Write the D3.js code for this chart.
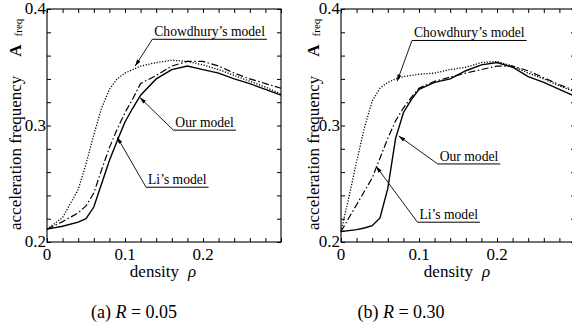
<!DOCTYPE html>
<html>
<head>
<meta charset="utf-8">
<script src="https://cdn.jsdelivr.net/npm/d3@7"></script>
<style>
  body { margin: 0; background: #fff; }
  svg { display: block; }
  text { font-family: "Liberation Serif", "Times New Roman", serif; fill: #000; }
</style>
</head>
<body>
<div id="chart"></div>
<script>
// density grid + acceleration frequency, panel (a) R = 0.05
const rhoA  = [0, 0.02, 0.04, 0.05, 0.06, 0.07, 0.08, 0.09, 0.10, 0.11, 0.12, 0.14, 0.16, 0.18, 0.20, 0.22, 0.24, 0.26, 0.28, 0.30];
const ourA  = [0.211, 0.2135, 0.217, 0.220, 0.230, 0.250, 0.270, 0.287, 0.303, 0.315, 0.326, 0.340, 0.348, 0.351, 0.348, 0.345, 0.340, 0.336, 0.331, 0.326];
const liA   = [0.211, 0.2175, 0.225, 0.231, 0.242, 0.262, 0.281, 0.297, 0.311, 0.323, 0.336, 0.343, 0.351, 0.355, 0.355, 0.351, 0.345, 0.340, 0.336, 0.332];
const chowA = [0.211, 0.221, 0.245, 0.267, 0.292, 0.315, 0.331, 0.340, 0.345, 0.348, 0.351, 0.354, 0.356, 0.355, 0.352, 0.348, 0.343, 0.338, 0.333, 0.327];

// panel (b) R = 0.30
const rhoB  = [0, 0.01, 0.02, 0.03, 0.04, 0.05, 0.06, 0.07, 0.08, 0.09, 0.10, 0.12, 0.14, 0.16, 0.18, 0.20, 0.22, 0.24, 0.26, 0.28, 0.30];
const ourB  = [0.209, 0.2098, 0.2106, 0.212, 0.214, 0.2206, 0.246, 0.289, 0.311, 0.322, 0.331, 0.337, 0.340, 0.347, 0.352, 0.354, 0.350, 0.342, 0.337, 0.331, 0.325];
const liB   = [0.209, 0.2206, 0.232, 0.2435, 0.255, 0.272, 0.289, 0.304, 0.315, 0.324, 0.332, 0.338, 0.3415, 0.345, 0.348, 0.351, 0.351, 0.347, 0.341, 0.335, 0.330];
const chowB = [0.209, 0.238, 0.269, 0.298, 0.321, 0.332, 0.337, 0.340, 0.342, 0.343, 0.344, 0.345, 0.348, 0.350, 0.354, 0.355, 0.351, 0.345, 0.340, 0.334, 0.329];

const xTickLabels = [0, 0.1, 0.2];
const yTickLabels = [0.2, 0.3, 0.4];
const captionTags = ['(a)', '(b)'];
const rValues = ['0.05', '0.30'];

const W = 572, H = 333;
const PW = 234, TOP = 9, BOTTOM = 242;

// tip = where the arrow points, foot = left end of the underline (data coords)
const panels = [
    {
        left: 47, ylabX: 21, capX: 134, rho: rhoA,
        series: { our: ourA, li: liA, chow: chowA },
        notes: [
            { text: 'Chowdhury\u2019s model', tip: [0.113, 0.351], foot: [0.135, 0.374] },
            { text: 'Our model', tip: [0.119, 0.324], foot: [0.162, 0.296] },
            { text: 'Li\u2019s model', tip: [0.090, 0.290], foot: [0.127, 0.247] }
        ]
    },
    {
        left: 341, ylabX: 319, capX: 401, rho: rhoB,
        series: { our: ourB, li: liB, chow: chowB },
        notes: [
            { text: 'Chowdhury\u2019s model', tip: [0.072, 0.338], foot: [0.091, 0.373] },
            { text: 'Our model', tip: [0.074, 0.291], foot: [0.124, 0.267] },
            { text: 'Li\u2019s model', tip: [0.045, 0.265], foot: [0.098, 0.217] }
        ]
    }
];

const styles = {
    our:  { width: 1.4, dash: null },
    li:   { width: 1.2, dash: '7,2.5,1.5,2.5' },
    chow: { width: 1.3, dash: '1.2,1.6' }
};

const svg = d3.select('#chart').append('svg')
    .attr('width', W).attr('height', H)
    .attr('viewBox', `0 0 ${W} ${H}`);

svg.append('defs').append('marker')
    .attr('id', 'arrow')
    .attr('viewBox', '0 0 10 6')
    .attr('refX', 10).attr('refY', 3)
    .attr('markerWidth', 7).attr('markerHeight', 4)
    .attr('markerUnits', 'userSpaceOnUse')
    .attr('orient', 'auto')
    .append('path').attr('d', 'M0,0 L10,3 L0,6 Z').attr('fill', '#000');

const minor = d3.range(16).map(i => +(i * 0.02).toFixed(2));
const minorY = d3.range(11).map(i => +(0.2 + i * 0.02).toFixed(2));

panels.forEach((p, pi) => {
    const x = d3.scaleLinear().domain([0, 0.3]).range([p.left, p.left + PW]);
    const y = d3.scaleLinear().domain([0.2, 0.4]).range([BOTTOM, TOP]);
    const g = svg.append('g');

    // inward ticks on all four sides
    const noDomain = s => s.call(a => a.select('.domain').remove());
    g.append('g').attr('transform', `translate(0,${BOTTOM})`)
        .call(d3.axisTop(x).tickValues(minor).tickSize(4).tickFormat('')).call(noDomain);
    g.append('g').attr('transform', `translate(0,${TOP})`)
        .call(d3.axisBottom(x).tickValues(minor).tickSize(4).tickFormat('')).call(noDomain);
    g.append('g').attr('transform', `translate(${p.left},0)`)
        .call(d3.axisRight(y).tickValues(minorY).tickSize(4).tickFormat('')).call(noDomain);
    g.append('g').attr('transform', `translate(${p.left + PW},0)`)
        .call(d3.axisLeft(y).tickValues(minorY).tickSize(4).tickFormat('')).call(noDomain);

    g.append('rect')
        .attr('x', p.left).attr('y', TOP)
        .attr('width', PW).attr('height', BOTTOM - TOP)
        .attr('fill', 'none').attr('stroke', '#000').attr('stroke-width', 1.1);

    // tick labels
    xTickLabels.forEach(v => {
        g.append('text')
            .attr('x', x(v)).attr('y', BOTTOM + 18)
            .attr('text-anchor', 'middle').attr('font-size', '17px')
            .text(v === 0 ? '0' : v.toFixed(1));
    });
    yTickLabels.forEach(v => {
        g.append('text')
            .attr('x', p.left - 1).attr('y', y(v) + 5)
            .attr('text-anchor', 'end').attr('font-size', '17px')
            .text(v.toFixed(1));
    });

    // axis titles
    const xl = g.append('text')
        .attr('x', p.left + PW / 2 - 1).attr('y', 277)
        .attr('text-anchor', 'middle').attr('font-size', '17px');
    xl.append('tspan').text('density');
    xl.append('tspan').attr('dx', 9).attr('font-style', 'italic').text('\u03c1');

    const yl = g.append('text')
        .attr('transform', `translate(${p.ylabX},${BOTTOM - 12}) rotate(-90)`)
        .attr('font-size', '17px');
    yl.append('tspan').text('acceleration frequency');
    yl.append('tspan').attr('dx', 19).attr('font-weight', 'bold').text('A');
    yl.append('tspan').attr('dx', 8).attr('dy', 1).attr('font-size', '11px').text('freq');

    // curves
    const line = d3.line().x(d => x(d[0])).y(d => y(d[1]));
    ['chow', 'li', 'our'].forEach(k => {
        g.append('path')
            .datum(p.rho.map((r, i) => [r, p.series[k][i]]))
            .attr('d', line)
            .attr('fill', 'none')
            .attr('stroke', '#000')
            .attr('stroke-width', styles[k].width)
            .attr('stroke-dasharray', styles[k].dash);
    });

    // annotations
    p.notes.forEach(n => {
        const fx = x(n.foot[0]), fy = y(n.foot[1]);
        const t = g.append('text')
            .attr('x', fx + 2).attr('y', fy - 3)
            .attr('font-size', '13.6px')
            .text(n.text);
        const tw = t.node().getComputedTextLength();
        g.append('line')
            .attr('x1', fx).attr('y1', fy).attr('x2', fx + tw + 4).attr('y2', fy)
            .attr('stroke', '#000').attr('stroke-width', 1);
        g.append('line')
            .attr('x1', fx).attr('y1', fy)
            .attr('x2', x(n.tip[0])).attr('y2', y(n.tip[1]))
            .attr('stroke', '#000').attr('stroke-width', 0.9)
            .attr('marker-end', 'url(#arrow)');
    });

    // caption
    const cap = svg.append('text')
        .attr('x', p.capX).attr('y', 318)
        .attr('text-anchor', 'middle').attr('font-size', '18px');
    cap.append('tspan').text(captionTags[pi] + ' ');
    cap.append('tspan').attr('font-style', 'italic').text('R');
    cap.append('tspan').text(' = ' + rValues[pi]);
});
</script>
</body>
</html>
